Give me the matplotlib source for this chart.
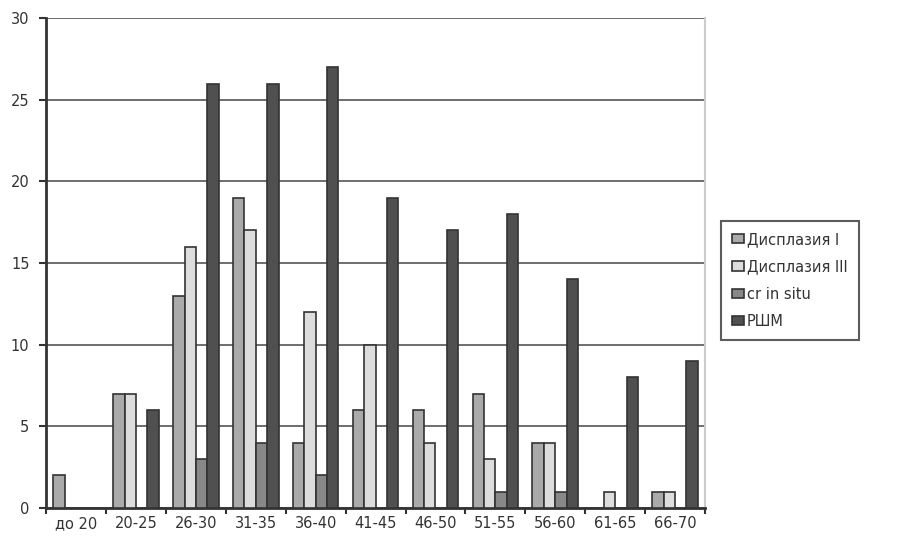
import numpy as np
import matplotlib.pyplot as plt

plt.rcParams['font.family'] = ['DejaVu Sans']

categories = ['до 20', '20-25', '26-30', '31-35', '36-40', '41-45',
              '46-50', '51-55', '56-60', '61-65', '66-70']
displ_1 = [2, 7, 13, 19, 4, 6, 6, 7, 4, 0, 1]
displ_3 = [0, 7, 16, 17, 12, 10, 4, 3, 4, 1, 1]
cr_in_situ = [0, 0, 3, 4, 2, 0, 0, 1, 1, 0, 0]
rshm = [0, 6, 26, 26, 27, 19, 17, 18, 14, 8, 9]

series = [
    ('Дисплазия I', displ_1, '#aaaaaa'),
    ('Дисплазия III', displ_3, '#dddddd'),
    ('cr in situ', cr_in_situ, '#888888'),
    ('РШМ', rshm, '#505050'),
]

fig = plt.figure(figsize=(9.05, 5.38), dpi=100)
ax = fig.add_axes([0.051, 0.056, 0.728, 0.910])

x = np.arange(len(categories))
w = 0.19
for i, (name, vals, col) in enumerate(series):
    vals = np.array(vals)
    mask = vals > 0
    ax.bar(x[mask] + (i - 1.5) * w, vals[mask], width=w, color=col,
           edgecolor='#333333', linewidth=1.2, label=name, zorder=3)

ax.set_xlim(-0.5, len(categories) - 0.5)
ax.set_ylim(0, 30)
ax.set_yticks(range(0, 31, 5))
ax.yaxis.grid(True, color='#555555', linewidth=1.2, zorder=0)

ax.set_xticks(x)
ax.set_xticklabels(categories, fontsize=10.5, color='#333333')
ax.set_xticks(np.arange(-0.5, len(categories), 1), minor=True)
ax.tick_params(axis='x', which='major', length=0, pad=6)
ax.tick_params(axis='x', which='minor', length=4, width=1.5, color='#333333', direction='out')
ax.tick_params(axis='y', length=5, width=1.5, color='#333333', labelsize=10.5,
               labelcolor='#333333', pad=7)

for s in ['left', 'bottom']:
    ax.spines[s].set_color('#333333')
    ax.spines[s].set_linewidth(2)
ax.spines['top'].set_visible(False)
ax.spines['right'].set_color('#cccccc')
ax.spines['right'].set_linewidth(1.5)

leg = fig.legend(loc='upper left', bbox_to_anchor=(0.789, 0.603), fontsize=10.5,
                 handlelength=0.8, handleheight=0.6, handletextpad=0.2,
                 labelspacing=0.85, borderpad=0.75, fancybox=False)
leg.get_frame().set_edgecolor('#333333')
leg.get_frame().set_linewidth(1.5)
for t in leg.get_texts():
    t.set_color('#333333')

fig.savefig('out.png', dpi=100)
